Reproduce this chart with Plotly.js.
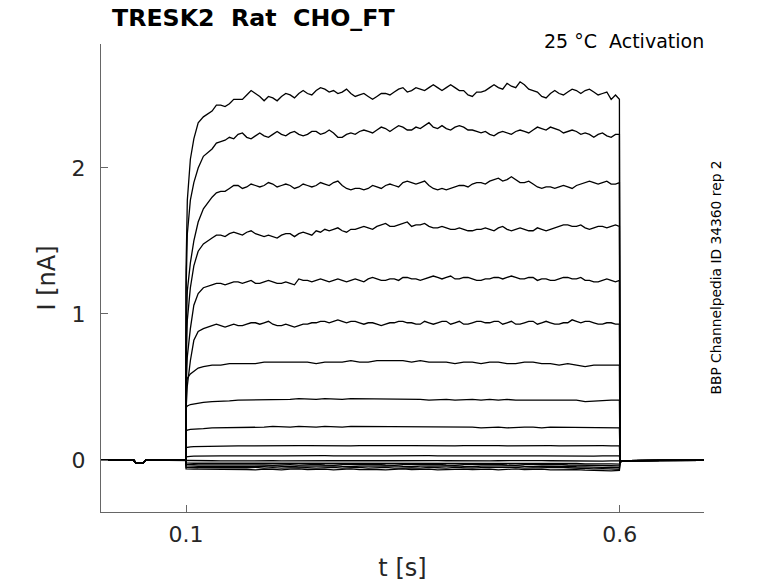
<!DOCTYPE html>
<html>
<head>
<meta charset="utf-8">
<script src="https://cdn.plot.ly/plotly-3.0.1.min.js"></script>
<style>html,body{margin:0;padding:0;background:#fff;}</style>
</head>
<body>
<div id="chart" style="width:778px;height:583px;"></div>
<script>
// time samples (s)
var tPre = [0.002, 0.0395, 0.0425, 0.0505, 0.0535, 0.0998];
var iPre = [0, 0, -0.022, -0.022, 0, 0];
var tPulse = [0.1000,0.1015,0.105,0.109,0.114,0.120,0.130,
  0.14,0.15,0.16,0.17,0.18,0.19,0.20,0.21,0.22,0.23,0.24,0.25,0.26,0.27,0.28,0.29,
  0.30,0.31,0.32,0.33,0.34,0.35,0.36,0.37,0.38,0.39,0.40,0.41,0.42,0.43,0.44,0.45,
  0.46,0.47,0.48,0.49,0.50,0.51,0.52,0.53,0.54,0.55,0.56,0.57,0.58,0.59,0.5995];
// extra samples between the main ones (noise detail of the large sweeps)
var tMid = [0.135,0.145,0.155,0.165,0.175,0.185,0.195,
  0.205,0.215,0.225,0.235,0.245,0.255,0.265,0.275,0.285,0.295,
  0.305,0.315,0.325,0.335,0.345,0.355,0.365,0.375,0.385,0.395,
  0.405,0.415,0.425,0.435,0.445,0.455,0.465,0.475,0.485,0.495,
  0.505,0.515,0.525,0.535,0.545,0.555,0.565,0.575,0.585,0.595];
var tPost = [0.6003, 0.602, 0.605, 0.61, 0.65, 0.697];
var iPost = [-0.012, -0.008, -0.005, -0.004, -0.003, -0.003];

// current during the pulse (nA), one array per sweep
var i1 = [1.30,1.78,2.06,2.20,2.31,2.35,2.39,
  2.43,2.44,2.47,2.50,2.51,2.46,2.48,2.49,2.50,2.51,2.51,2.53,2.54,2.53,2.52,2.51,
  2.50,2.49,2.49,2.51,2.52,2.55,2.53,2.54,2.55,2.55,2.55,2.55,2.53,2.49,2.52,2.55,
  2.55,2.58,2.55,2.57,2.53,2.49,2.51,2.51,2.52,2.53,2.53,2.52,2.51,2.47,2.47];
var m1 = [2.43,2.42,2.47,2.47,2.53,2.49,2.49,
  2.46,2.51,2.48,2.53,2.50,2.55,2.52,2.51,2.54,2.49,
  2.51,2.47,2.51,2.50,2.54,2.52,2.55,2.53,2.57,2.53,
  2.57,2.53,2.50,2.52,2.53,2.57,2.54,2.56,2.59,2.54,
  2.52,2.48,2.53,2.50,2.54,2.51,2.54,2.50,2.52,2.50];
var i2 = [1.15,1.55,1.78,1.90,2.00,2.08,2.13,
  2.18,2.21,2.23,2.21,2.22,2.22,2.23,2.23,2.24,2.23,2.23,2.25,2.24,2.24,2.21,2.24,
  2.25,2.25,2.26,2.27,2.27,2.28,2.26,2.27,2.31,2.27,2.27,2.28,2.28,2.26,2.24,2.23,
  2.24,2.24,2.25,2.25,2.26,2.27,2.28,2.26,2.25,2.25,2.24,2.21,2.24,2.21,2.23];
var m2 = [2.17,2.19,2.20,2.24,2.20,2.24,2.21,
  2.25,2.22,2.25,2.22,2.25,2.23,2.26,2.21,2.23,2.23,
  2.26,2.24,2.28,2.25,2.29,2.26,2.28,2.29,2.28,2.29,
  2.26,2.29,2.26,2.25,2.25,2.22,2.25,2.23,2.26,2.24,
  2.28,2.26,2.27,2.24,2.26,2.23,2.23,2.23,2.22,2.23];
var i3 = [0.85,1.16,1.35,1.50,1.63,1.72,1.80,
  1.84,1.86,1.88,1.87,1.88,1.88,1.89,1.88,1.88,1.87,1.88,1.88,1.89,1.90,1.88,1.85,
  1.86,1.86,1.87,1.88,1.88,1.90,1.90,1.90,1.88,1.85,1.85,1.87,1.88,1.89,1.90,1.91,
  1.93,1.92,1.92,1.90,1.89,1.86,1.87,1.87,1.87,1.88,1.90,1.90,1.90,1.89,1.90];
var m3 = [1.83,1.84,1.88,1.86,1.89,1.87,1.90,
  1.87,1.89,1.86,1.89,1.87,1.90,1.88,1.91,1.86,1.86,
  1.85,1.88,1.86,1.89,1.87,1.91,1.89,1.91,1.86,1.86,
  1.86,1.88,1.87,1.90,1.89,1.92,1.91,1.94,1.90,1.91,
  1.87,1.87,1.86,1.88,1.86,1.89,1.91,1.89,1.91,1.89];
var i4 = [0.62,0.96,1.18,1.33,1.43,1.48,1.52,
  1.54,1.55,1.55,1.56,1.55,1.53,1.53,1.54,1.55,1.55,1.55,1.57,1.58,1.58,1.57,1.58,
  1.59,1.59,1.60,1.62,1.60,1.62,1.60,1.61,1.60,1.59,1.59,1.58,1.58,1.57,1.58,1.58,
  1.59,1.58,1.58,1.58,1.57,1.58,1.58,1.60,1.61,1.60,1.59,1.59,1.60,1.60,1.60];
var m4 = [1.54,1.53,1.56,1.54,1.57,1.54,1.54,
  1.52,1.55,1.53,1.56,1.54,1.56,1.57,1.59,1.56,1.58,
  1.60,1.58,1.61,1.60,1.61,1.63,1.61,1.62,1.59,1.60,
  1.58,1.59,1.57,1.58,1.59,1.57,1.60,1.57,1.59,1.57,
  1.59,1.57,1.59,1.61,1.60,1.61,1.58,1.60,1.59,1.61];
var i5 = [0.48,0.71,0.90,1.06,1.14,1.18,1.20,
  1.21,1.21,1.22,1.22,1.21,1.22,1.22,1.21,1.21,1.24,1.23,1.23,1.23,1.23,1.23,1.23,
  1.23,1.24,1.24,1.23,1.24,1.25,1.24,1.23,1.25,1.25,1.25,1.24,1.25,1.24,1.23,1.24,
  1.25,1.25,1.25,1.24,1.25,1.24,1.23,1.24,1.25,1.24,1.23,1.22,1.23,1.23,1.23];
var m5 = [1.21,1.20,1.22,1.21,1.23,1.21,1.23,
  1.21,1.22,1.20,1.23,1.22,1.24,1.22,1.24,1.22,1.24,
  1.22,1.25,1.23,1.24,1.23,1.25,1.24,1.24,1.26,1.24,
  1.26,1.24,1.25,1.23,1.24,1.25,1.24,1.26,1.24,1.25,
  1.23,1.24,1.23,1.25,1.24,1.25,1.23,1.22,1.24,1.22];
var i6 = [0.34,0.51,0.68,0.82,0.88,0.90,0.92,
  0.92,0.92,0.92,0.93,0.94,0.94,0.93,0.92,0.92,0.92,0.93,0.94,0.95,0.95,0.95,0.95,
  0.94,0.94,0.93,0.93,0.94,0.95,0.94,0.93,0.94,0.94,0.95,0.94,0.93,0.94,0.95,0.94,
  0.95,0.94,0.93,0.94,0.95,0.94,0.94,0.93,0.94,0.95,0.95,0.94,0.93,0.94,0.93];
var m6 = [0.93,0.91,0.93,0.92,0.94,0.93,0.95,
  0.92,0.93,0.91,0.93,0.94,0.95,0.94,0.96,0.94,0.95,
  0.93,0.94,0.92,0.94,0.95,0.94,0.93,0.95,0.93,0.95,
  0.93,0.95,0.93,0.95,0.94,0.95,0.93,0.95,0.93,0.95,
  0.93,0.95,0.93,0.94,0.96,0.94,0.95,0.93,0.94,0.93];
var i7 = [0.50,0.56,0.59,0.61,0.63,0.64,0.65,
  0.65,0.66,0.66,0.66,0.66,0.67,0.67,0.67,0.67,0.67,0.67,0.66,0.67,0.67,0.67,0.68,
  0.67,0.67,0.68,0.68,0.68,0.68,0.67,0.68,0.67,0.67,0.67,0.66,0.67,0.67,0.66,0.67,
  0.67,0.66,0.66,0.67,0.67,0.66,0.66,0.65,0.66,0.65,0.64,0.65,0.65,0.65,0.65];
var i8 = [0.36,0.37,0.38,0.385,0.39,0.395,0.40,
  0.40,0.405,0.41,0.41,0.41,0.41,0.415,0.41,0.415,0.42,0.415,0.415,0.42,0.415,0.415,0.42,
  0.42,0.415,0.42,0.42,0.415,0.415,0.42,0.415,0.41,0.415,0.415,0.41,0.415,0.415,0.41,0.415,
  0.41,0.415,0.41,0.41,0.415,0.41,0.41,0.415,0.41,0.41,0.40,0.405,0.41,0.41,0.41];
var i9 = [0.20,0.205,0.21,0.21,0.215,0.215,0.22,
  0.22,0.22,0.225,0.225,0.225,0.225,0.23,0.225,0.225,0.23,0.225,0.225,0.23,0.225,0.225,0.23,
  0.23,0.225,0.23,0.225,0.225,0.23,0.225,0.225,0.23,0.225,0.225,0.23,0.225,0.225,0.22,0.225,
  0.225,0.22,0.225,0.225,0.225,0.22,0.225,0.225,0.22,0.225,0.22,0.22,0.225,0.22,0.22];
var i10 = [0.085,0.088,0.090,0.092,0.093,0.094,0.095,
  0.095,0.096,0.097,0.097,0.098,0.097,0.098,0.097,0.098,0.099,0.098,0.097,0.098,0.099,0.098,0.097,
  0.098,0.099,0.098,0.097,0.098,0.099,0.098,0.097,0.098,0.099,0.098,0.097,0.098,0.099,0.098,0.097,
  0.098,0.097,0.098,0.099,0.098,0.097,0.098,0.097,0.098,0.099,0.098,0.097,0.098,0.097,0.097];
var i11 = [0.022,0.024,0.025,0.026,0.027,0.027,0.028,
  0.028,0.029,0.028,0.029,0.030,0.029,0.028,0.029,0.030,0.029,0.028,0.029,0.030,0.029,0.028,0.029,
  0.030,0.029,0.028,0.029,0.030,0.029,0.028,0.029,0.030,0.029,0.028,0.029,0.030,0.029,0.028,0.029,
  0.028,0.029,0.030,0.029,0.028,0.029,0.028,0.029,0.030,0.029,0.028,0.027,0.028,0.029,0.028];
var i12 = [-0.004,-0.004,-0.005,-0.005,-0.005,-0.005,-0.005,
  -0.006,-0.005,-0.004,-0.006,-0.005,-0.004,-0.005,-0.006,-0.005,-0.004,-0.005,-0.006,-0.005,-0.004,-0.005,-0.006,
  -0.005,-0.004,-0.006,-0.005,-0.005,-0.004,-0.005,-0.006,-0.005,-0.004,-0.005,-0.006,-0.005,-0.004,-0.005,-0.006,
  -0.005,-0.004,-0.005,-0.006,-0.005,-0.004,-0.005,-0.006,-0.005,-0.004,-0.005,-0.006,-0.007,-0.006,-0.006];
var i13 = [-0.020,-0.021,-0.021,-0.022,-0.022,-0.022,-0.023,
  -0.022,-0.024,-0.021,-0.023,-0.025,-0.022,-0.021,-0.024,-0.023,-0.020,-0.022,-0.025,-0.022,-0.021,-0.024,-0.023,
  -0.020,-0.023,-0.025,-0.022,-0.021,-0.024,-0.022,-0.020,-0.023,-0.025,-0.022,-0.021,-0.024,-0.023,-0.020,-0.022,
  -0.025,-0.023,-0.021,-0.024,-0.022,-0.020,-0.023,-0.025,-0.022,-0.024,-0.026,-0.025,-0.027,-0.026,-0.028];
var i14 = [-0.030,-0.031,-0.032,-0.032,-0.033,-0.033,-0.033,
  -0.034,-0.031,-0.035,-0.033,-0.030,-0.034,-0.036,-0.032,-0.031,-0.035,-0.033,-0.030,-0.034,-0.036,-0.032,-0.031,
  -0.035,-0.033,-0.030,-0.034,-0.036,-0.032,-0.031,-0.035,-0.033,-0.030,-0.034,-0.036,-0.032,-0.031,-0.035,-0.033,
  -0.030,-0.034,-0.036,-0.032,-0.031,-0.035,-0.033,-0.030,-0.034,-0.036,-0.035,-0.038,-0.037,-0.039,-0.040];
var i15 = [-0.040,-0.041,-0.042,-0.042,-0.043,-0.043,-0.043,
  -0.044,-0.046,-0.042,-0.041,-0.045,-0.043,-0.040,-0.044,-0.046,-0.042,-0.041,-0.045,-0.043,-0.040,-0.044,-0.046,
  -0.042,-0.041,-0.045,-0.043,-0.040,-0.044,-0.046,-0.042,-0.041,-0.045,-0.043,-0.040,-0.044,-0.046,-0.042,-0.041,
  -0.045,-0.043,-0.040,-0.044,-0.046,-0.042,-0.041,-0.045,-0.043,-0.046,-0.048,-0.047,-0.050,-0.049,-0.051];
var i16 = [-0.050,-0.051,-0.052,-0.052,-0.053,-0.053,-0.053,
  -0.054,-0.051,-0.056,-0.053,-0.050,-0.055,-0.052,-0.056,-0.054,-0.051,-0.053,-0.056,-0.052,-0.050,-0.055,-0.054,
  -0.051,-0.056,-0.053,-0.050,-0.055,-0.052,-0.054,-0.056,-0.051,-0.053,-0.055,-0.050,-0.054,-0.056,-0.052,-0.051,
  -0.055,-0.053,-0.050,-0.056,-0.054,-0.052,-0.055,-0.051,-0.053,-0.056,-0.058,-0.060,-0.059,-0.062,-0.063];
var i17 = [-0.060,-0.061,-0.062,-0.062,-0.063,-0.063,-0.064,
  -0.063,-0.066,-0.061,-0.065,-0.067,-0.062,-0.064,-0.067,-0.063,-0.061,-0.066,-0.065,-0.062,-0.067,-0.064,-0.061,
  -0.066,-0.063,-0.065,-0.067,-0.062,-0.061,-0.066,-0.064,-0.062,-0.067,-0.065,-0.061,-0.063,-0.066,-0.064,-0.062,
  -0.067,-0.065,-0.061,-0.066,-0.064,-0.062,-0.067,-0.065,-0.063,-0.066,-0.069,-0.072,-0.070,-0.074,-0.071];

var sweeps = [i1,i2,i3,i4,i5,i6,i7,i8,i9,i10,i11,i12,i13,i14,i15,i16,i17];
var mids   = [m1,m2,m3,m4,m5,m6,null,null,null,null,null,null,null,null,null,null,null];

var xTicks = [0.1, 0.6];
var xTickText = ['0.1', '0.6'];
var yTicks = [0, 1, 2];
var yTickText = ['0', '1', '2'];

var titleText = 'TRESK2\u00a0\u00a0Rat\u00a0\u00a0CHO_FT';
var condText = '25\u00a0°C\u00a0\u00a0Activation';
var idText = 'BBP Channelpedia ID 34360 rep 2';

var FONT = 'DejaVu Sans, Liberation Sans, sans-serif';

function mergeSamples(tA, yA, tB, yB) {
  var pts = [];
  for (var k = 0; k < tA.length; k++) pts.push([tA[k], yA[k]]);
  if (tB && yB) for (var j = 0; j < tB.length; j++) pts.push([tB[j], yB[j]]);
  pts.sort(function (a, b) { return a[0] - b[0]; });
  return {t: pts.map(function (p) { return p[0]; }), y: pts.map(function (p) { return p[1]; })};
}

var traces = sweeps.map(function (s, k) {
  var m = mergeSamples(tPulse, s, mids[k] ? tMid : null, mids[k]);
  return {
    type: 'scatter', mode: 'lines',
    x: tPre.concat(m.t, tPost),
    y: iPre.concat(m.y, iPost),
    line: {color: '#000000', width: 1.3},
    hoverinfo: 'skip', showlegend: false
  };
});

var axisCommon = {
  showgrid: false, zeroline: false, showline: true,
  linecolor: '#666666', linewidth: 1,
  ticks: 'inside', ticklen: 7, tickwidth: 1, tickcolor: '#666666',
  tickfont: {family: FONT, size: 22, color: '#262626'},
  fixedrange: true
};

var layout = {
  width: 778, height: 583,
  margin: {l: 101, r: 74, t: 44, b: 71, pad: 0},
  paper_bgcolor: '#ffffff', plot_bgcolor: '#ffffff',
  font: {family: FONT, color: '#262626'},
  showlegend: false,
  xaxis: Object.assign({}, axisCommon, {
    range: [0.002, 0.697],
    tickmode: 'array', tickvals: xTicks, ticktext: xTickText,
    ticklabelstandoff: 3,
    title: {text: 't [s]', font: {family: FONT, size: 24, color: '#262626'}, standoff: 12}
  }),
  yaxis: Object.assign({}, axisCommon, {
    range: [-0.356, 2.849],
    tickmode: 'array', tickvals: yTicks, ticktext: yTickText,
    ticklabelstandoff: 10,
    title: {text: 'I [nA]', font: {family: FONT, size: 24, color: '#262626'}, standoff: 9}
  }),
  annotations: [
    {xref: 'paper', yref: 'paper', x: 0.0149, y: 1.0556, xanchor: 'left', yanchor: 'middle',
     text: '<b>' + titleText + '</b>', showarrow: false,
     font: {family: FONT, size: 23.7, color: '#000000'}},
    {xref: 'paper', yref: 'paper', x: 1.0033, y: 1.0064, xanchor: 'right', yanchor: 'middle',
     text: condText, showarrow: false,
     font: {family: FONT, size: 19, color: '#000000'}},
    {xref: 'paper', yref: 'paper', x: 1.0199, y: 0.501, xanchor: 'center', yanchor: 'middle',
     text: idText, textangle: -90, showarrow: false,
     font: {family: FONT, size: 13.8, color: '#000000'}}
  ]
};

Plotly.newPlot('chart', traces, layout, {displayModeBar: false, staticPlot: true});
</script>
</body>
</html>
